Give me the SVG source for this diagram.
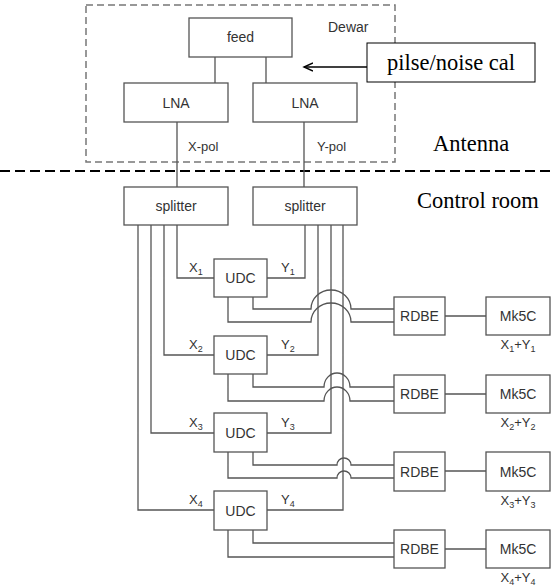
<svg xmlns="http://www.w3.org/2000/svg" width="552" height="588" viewBox="0 0 552 588">
<defs>
<style>
.box{fill:#fff;stroke:#555;stroke-width:1.3}
.ln{fill:none;stroke:#555;stroke-width:1.3}
.t{font-family:"Liberation Sans",Arial,sans-serif;font-size:14px;fill:#333;text-anchor:middle}
.s{font-family:"Liberation Sans",Arial,sans-serif;font-size:13px;fill:#333}
.sub{font-size:9px}
.serif{font-family:"Liberation Serif","Times New Roman",serif;font-size:22.5px;fill:#000}
</style>
<marker id="ah" markerWidth="12" markerHeight="12" refX="9" refY="5" orient="auto" markerUnits="userSpaceOnUse">
<path d="M0,1 L9,5 L0,9" fill="none" stroke="#000" stroke-width="1.4"/>
</marker>
</defs>
<rect width="552" height="588" fill="#fff"/>

<g id="dewar">
<rect x="86" y="5" width="309" height="157" fill="none" stroke="#777" stroke-width="1.5" stroke-dasharray="7,4"/>
<text x="328" y="32" class="t" style="text-anchor:start">Dewar</text>
</g>
<line x1="0" y1="171" x2="552" y2="171" stroke="#000" stroke-width="2" stroke-dasharray="10,5"/>
<text x="433" y="151" class="serif">Antenna</text>
<text x="417" y="208" class="serif">Control room</text>

<g id="connectors">
<path class="ln" d="M215 57V83M266 57V83M177 122V187M304 122V187"/>
<path class="ln" d="M177 225V278H214M164 225V355H214M151 225V433H214M138 225V510H214"/>
<path class="ln" d="M305 225V278H267M318 225V355H267M331 225V433H267M343 225V510H267"/>
<path class="ln" d="M253 297V309H311A20 19 0 0 1 351 309H394M228 297V322H311A20 19 0 0 1 351 322H394"/>
<path class="ln" d="M253 374V387H324A13 14 0 0 1 350 387H394M228 374V401H324A13 14 0 0 1 350 401H394"/>
<path class="ln" d="M253 452V465H337A7 7 0 0 1 351 465H394M228 452V478H337A7 7 0 0 1 351 478H394"/>
<path class="ln" d="M253 530V543H394M228 530V557H394"/>
<path class="ln" d="M445 316H486M445 394H486M445 471H486M445 549H486"/>
<line x1="367" y1="67" x2="304" y2="67" stroke="#000" stroke-width="1.4" marker-end="url(#ah)"/>
</g>

<g id="feed"><rect class="box" x="189" y="18" width="103" height="39"/><text class="t" x="240.5" y="42">feed</text></g>
<g id="lna-x"><rect class="box" x="124" y="83" width="104" height="39"/><text class="t" x="176" y="107.5">LNA</text></g>
<g id="lna-y"><rect class="box" x="253" y="83" width="104" height="39"/><text class="t" x="305" y="107.5">LNA</text></g>
<text class="s" x="188" y="151">X-pol</text>
<text class="s" x="317" y="151">Y-pol</text>
<g id="cal"><rect x="367" y="43" width="168" height="39" fill="#fff" stroke="#000" stroke-width="1"/><text class="serif" x="451" y="70" text-anchor="middle">pilse/noise cal</text></g>

<g id="splitter-x"><rect class="box" x="124" y="187" width="104" height="38"/><text class="t" x="176" y="211">splitter</text></g>
<g id="splitter-y"><rect class="box" x="253" y="187" width="104" height="38"/><text class="t" x="305" y="211">splitter</text></g>

<g id="udc1"><rect class="box" x="214" y="259" width="53" height="38"/><text class="t" x="240.5" y="283">UDC</text></g>
<g id="udc2"><rect class="box" x="214" y="336" width="53" height="38"/><text class="t" x="240.5" y="360">UDC</text></g>
<g id="udc3"><rect class="box" x="214" y="413" width="53" height="39"/><text class="t" x="240.5" y="437.5">UDC</text></g>
<g id="udc4"><rect class="box" x="214" y="491" width="53" height="39"/><text class="t" x="240.5" y="515.5">UDC</text></g>

<text class="s" x="189" y="272">X<tspan class="sub" dy="3">1</tspan></text>
<text class="s" x="281" y="272">Y<tspan class="sub" dy="3">1</tspan></text>
<text class="s" x="189" y="349">X<tspan class="sub" dy="3">2</tspan></text>
<text class="s" x="281" y="349">Y<tspan class="sub" dy="3">2</tspan></text>
<text class="s" x="189" y="427">X<tspan class="sub" dy="3">3</tspan></text>
<text class="s" x="281" y="427">Y<tspan class="sub" dy="3">3</tspan></text>
<text class="s" x="189" y="504">X<tspan class="sub" dy="3">4</tspan></text>
<text class="s" x="281" y="504">Y<tspan class="sub" dy="3">4</tspan></text>

<g id="rdbe1"><rect class="box" x="394" y="297" width="51" height="38"/><text class="t" x="419.5" y="321">RDBE</text></g>
<g id="rdbe2"><rect class="box" x="394" y="375" width="51" height="38"/><text class="t" x="419.5" y="399">RDBE</text></g>
<g id="rdbe3"><rect class="box" x="394" y="452" width="51" height="39"/><text class="t" x="419.5" y="476.5">RDBE</text></g>
<g id="rdbe4"><rect class="box" x="394" y="530" width="51" height="38"/><text class="t" x="419.5" y="554">RDBE</text></g>

<g id="mk5c1"><rect class="box" x="486" y="297" width="64" height="38"/><text class="t" x="518" y="321">Mk5C</text></g>
<g id="mk5c2"><rect class="box" x="486" y="375" width="64" height="38"/><text class="t" x="518" y="399">Mk5C</text></g>
<g id="mk5c3"><rect class="box" x="486" y="452" width="64" height="39"/><text class="t" x="518" y="476.5">Mk5C</text></g>
<g id="mk5c4"><rect class="box" x="486" y="530" width="64" height="38"/><text class="t" x="518" y="554">Mk5C</text></g>

<text class="s" x="518" y="349" text-anchor="middle">X<tspan class="sub" dy="3">1</tspan><tspan dy="-3">+Y</tspan><tspan class="sub" dy="3">1</tspan></text>
<text class="s" x="518" y="427" text-anchor="middle">X<tspan class="sub" dy="3">2</tspan><tspan dy="-3">+Y</tspan><tspan class="sub" dy="3">2</tspan></text>
<text class="s" x="518" y="505" text-anchor="middle">X<tspan class="sub" dy="3">3</tspan><tspan dy="-3">+Y</tspan><tspan class="sub" dy="3">3</tspan></text>
<text class="s" x="518" y="582" text-anchor="middle">X<tspan class="sub" dy="3">4</tspan><tspan dy="-3">+Y</tspan><tspan class="sub" dy="3">4</tspan></text>
</svg>
